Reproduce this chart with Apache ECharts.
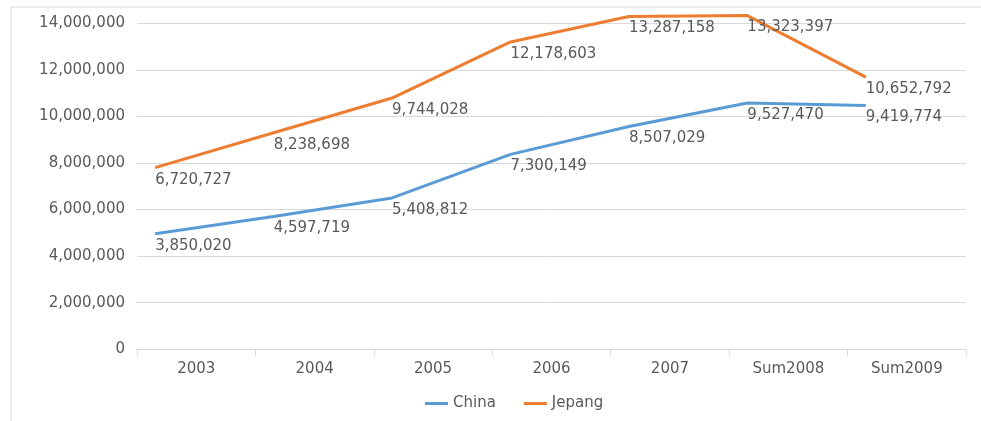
<!DOCTYPE html>
<html>
<head>
<meta charset="utf-8">
<script src="https://cdn.jsdelivr.net/npm/echarts@6/dist/echarts.min.js"></script>
<style>html,body{margin:0;padding:0;background:#fff}#c{width:981px;height:421px}</style>
</head>
<body>
<div id="c"></div>
<script>
var categories = ['2003', '2004', '2005', '2006', '2007', 'Sum2008', 'Sum2009'];
var china = [3850020, 4597719, 5408812, 7300149, 8507029, 9527470, 9419774];
var jepang = [6720727, 8238698, 9744028, 12178603, 13287158, 13323397, 10652792];
var yTicks = [0, 2000000, 4000000, 6000000, 8000000, 10000000, 12000000, 14000000];

var FONT = 'DejaVu Sans';
var TXT = '#595959';
function fmt(v) { return Number(v).toLocaleString('en-US'); }

var chart = echarts.init(document.getElementById('c'), null, {renderer: 'canvas'});
var labelCfg = {
  show: true, position: 'bottom', align: 'left', distance: 4,
  color: TXT, fontFamily: FONT, fontSize: 15,
  formatter: function (p) { return fmt(p.value); }
};
chart.setOption({
  animation: false,
  backgroundColor: '#fff',
  graphic: [{
    type: 'rect', shape: {x: 11, y: 7, width: 1000, height: 430},
    style: {fill: 'none', stroke: '#D9D9D9', lineWidth: 1}, silent: true, z: -10
  }],
  legend: {
    data: [{name: 'China', icon: 'rect'}, {name: 'Jepang', icon: 'rect'}],
    bottom: 5, left: 420, itemWidth: 23, itemHeight: 3, itemGap: 28,
    textStyle: {color: TXT, fontFamily: FONT, fontSize: 15}
  },
  grid: [
    {left: 137, right: 15, top: 23.3, bottom: 71.7},
    {left: 96, right: 56, top: -4.5, bottom: 98.5}
  ],
  xAxis: [{
    gridIndex: 0, type: 'category', data: categories, boundaryGap: true,
    axisLine: {lineStyle: {color: '#D9D9D9', width: 1}},
    axisTick: {show: true, length: 6, lineStyle: {color: '#D9D9D9'}},
    axisLabel: {color: TXT, fontFamily: FONT, fontSize: 15, margin: 12}
  }, {
    gridIndex: 1, type: 'category', data: categories, boundaryGap: true, show: false
  }],
  yAxis: [{
    gridIndex: 0, type: 'value', min: yTicks[0], max: yTicks[yTicks.length - 1], interval: 2000000,
    axisLine: {show: false}, axisTick: {show: false},
    splitLine: {lineStyle: {color: '#D9D9D9', width: 1}},
    axisLabel: {color: TXT, fontFamily: FONT, fontSize: 15, margin: 12, formatter: fmt}
  }, {
    gridIndex: 1, type: 'value', min: yTicks[0], max: yTicks[yTicks.length - 1], interval: 2000000, show: false
  }],
  series: [{
    name: 'China', type: 'line', xAxisIndex: 1, yAxisIndex: 1, data: china,
    color: '#5B9BD5', lineStyle: {width: 3, color: '#5B9BD5'},
    symbol: 'circle', symbolSize: 1, showSymbol: true, clip: false,
    label: labelCfg
  }, {
    name: 'Jepang', type: 'line', xAxisIndex: 1, yAxisIndex: 1, data: jepang,
    color: '#ED7D31', lineStyle: {width: 3, color: '#ED7D31'},
    symbol: 'circle', symbolSize: 1, showSymbol: true, clip: false,
    label: labelCfg
  }]
});
</script>
</body>
</html>
